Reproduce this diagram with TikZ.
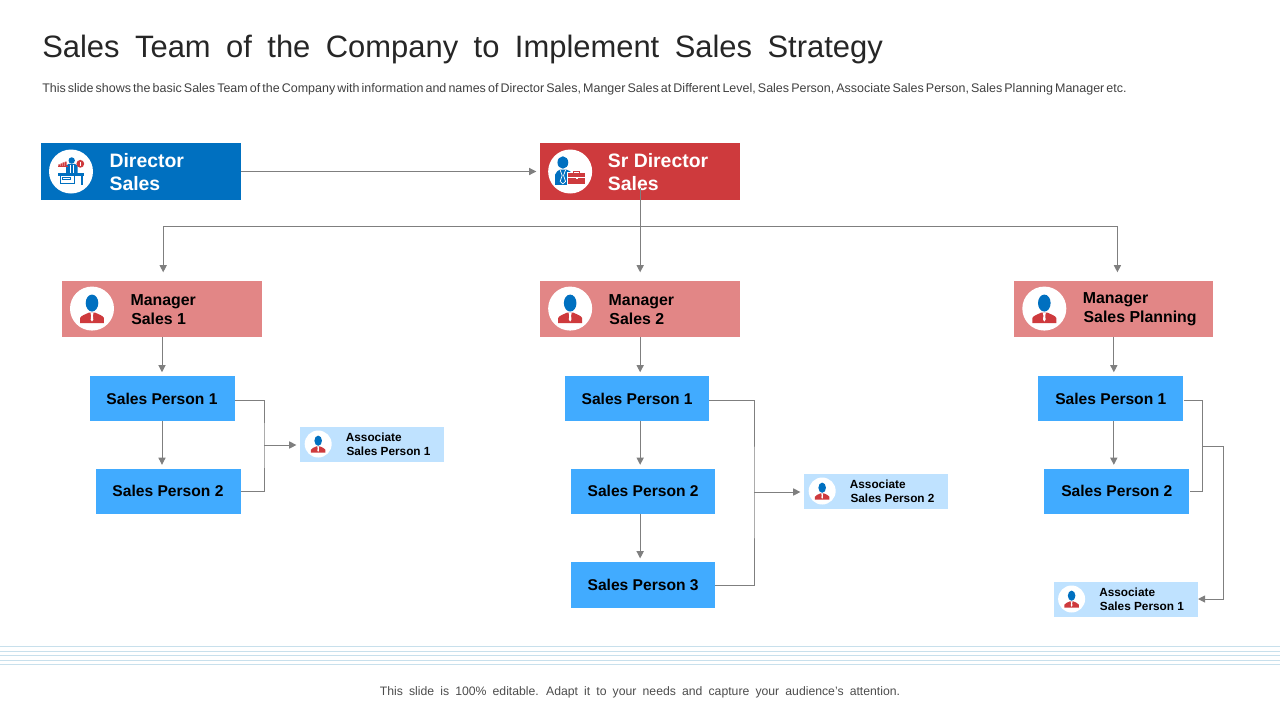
\documentclass[tikz,border=0pt]{standalone}
\usepackage{fontspec}
\setmainfont{Liberation Sans}
\usepackage{xcolor}
\usetikzlibrary{arrows.meta,positioning,calc}
\definecolor{dirblue}{HTML}{0070C0}
\definecolor{srred}{HTML}{CE3A3D}
\definecolor{mgrpink}{HTML}{E28686}
\definecolor{salesblue}{HTML}{41ABFF}
\definecolor{assocblue}{HTML}{BFE2FF}
\definecolor{linegray}{HTML}{7F7F7F}
\definecolor{ruleblue}{HTML}{C8E0EC}
\newcommand{\titlefnt}{\fontsize{22}{26}\selectfont\spaceskip=11pt\relax}
\newcommand{\subfnt}{\fontsize{8.88}{10}\selectfont\spaceskip=1.5pt\relax}
\newcommand{\footfnt}{\fontsize{8.7}{10}\selectfont\spaceskip=4.35pt\relax}
\tikzstyle{topbox}=[rectangle, fill=dirblue, minimum width=5cm, minimum height=1.425cm, inner sep=0pt]
\tikzstyle{mgrbox}=[rectangle, fill=mgrpink, minimum width=5cm, minimum height=1.4cm, inner sep=0pt]
\tikzstyle{salesbox}=[rectangle, fill=salesblue, minimum width=3.625cm, minimum height=1.125cm, inner sep=0pt,
  font=\bfseries\fontsize{11.1}{13.5}\selectfont]
\tikzstyle{assocbox}=[rectangle, fill=assocblue, minimum width=3.6cm, minimum height=0.875cm, inner sep=0pt]
\tikzstyle{iconbig}=[circle, fill=white, minimum size=1.1cm, inner sep=0pt]
\tikzstyle{iconsmall}=[circle, fill=white, minimum size=0.675cm, inner sep=0pt]
\tikzstyle{toptext}=[align=left, inner sep=0pt, text=white, yshift=-0.025cm, font=\bfseries\fontsize{13.8}{16.4}\selectfont]
\tikzstyle{mgrtext}=[align=left, inner sep=0pt, yshift=-0.015cm, font=\bfseries\fontsize{11.3}{13.5}\selectfont]
\tikzstyle{assoctext}=[align=left, inner sep=0pt, font=\bfseries\fontsize{8.4}{10}\selectfont]
\tikzstyle{conn}=[draw=linegray, line width=0.7pt]
\tikzstyle{arrow}=[conn, -{Triangle[length=0.18cm,width=0.18cm]}, shorten >=0.09cm]
\tikzstyle{iconpx}=[x=0.025cm, y=-0.025cm]
\tikzset{
  pics/manicon/.style={code={
    \fill[iconpx,dirblue] (0,-5.5) ellipse (6.3 and 8.5);
    \fill[iconpx,srred] (-12,14.5) -- (-12,9.5) .. controls (-11,7) and (-7,6) .. (-3,4) -- (3,4)
      .. controls (7,6) and (11,7) .. (12,9.5) -- (12,14.5) -- cycle;
    \fill[iconpx,white] (-1.6,4) -- (1.6,4) -- (0.9,7) -- (1.3,11) -- (0,13) -- (-1.3,11) -- (-0.9,7) -- cycle;
  }},
  pics/deskicon/.style={code={
    \fill[iconpx,dirblue] (0.7,-11) circle (3.2);
    \fill[iconpx,dirblue] (-5,1.7) -- (-5,-6) -- (-2,-7.7) -- (3.5,-7.7) -- (6.7,-6) -- (6.7,1.7) -- cycle;
    \draw[iconpx,white,line width=0.4pt] (-1,-7) -- (-1,1.7) (2.4,-7) -- (2.4,1.7);
    \fill[iconpx,dirblue] (-12.7,1.7) rectangle (13.3,4);
    \fill[iconpx,dirblue] (10,4) rectangle (12.3,13.3);
    \draw[iconpx,dirblue,line width=0.7pt] (-11,4) rectangle (3.3,12.3);
    \draw[iconpx,dirblue,line width=0.5pt] (-8.3,5.5) rectangle (-1,8);
    \fill[iconpx,srred] (-12.7,-7.2) rectangle (-11,-5.7) (-10.5,-8.2) rectangle (-8.8,-5.7)
      (-8.3,-9.2) rectangle (-6.6,-5.7) (-6.1,-10) rectangle (-4.4,-5.7);
    \fill[iconpx,srred] (-12.7,-5.7) rectangle (-3.3,-5);
    \fill[iconpx,srred] (9.3,-7.7) circle (3.9);
    \draw[iconpx,white,line width=0.6pt] (9.3,-10) -- (9.3,-5.4);
  }},
  pics/caseicon/.style={code={
    \fill[iconpx,dirblue] (-7.3,-9) ellipse (5.4 and 6.2);
    \fill[iconpx,dirblue] (-15,13.3) -- (-15,3) .. controls (-14,0) and (-12,-1) .. (-10,-2) -- (-4,-2)
      .. controls (-1,-1) and (1.5,0) .. (2,3) -- (2,13.3) -- cycle;
    \draw[iconpx,white,line width=0.5pt] (-10,-1.5) -- (-8,4) -- (-10,10) -- (-7.3,12.3) -- (-4.6,10) -- (-6.6,4) -- (-4.6,-1.5);
    \fill[iconpx,white] (-2.7,0.7) rectangle (16,13.3);
    \fill[iconpx,srred] (-1.7,1.7) rectangle (15,12.3);
    \draw[iconpx,srred,line width=0.7pt] (3.5,1.7) -- (3.5,-0.3) -- (9.8,-0.3) -- (9.8,1.7);
    \draw[iconpx,white,line width=0.5pt] (-1.7,6) -- (15,6);
    \fill[iconpx,white] (5.5,5) rectangle (7.8,7.5);
  }}
}

\begin{document}
\begin{tikzpicture}
\useasboundingbox (0,0) rectangle (32,-18);
\node (title) [anchor=west, inner sep=0pt, text=black!85, font=\titlefnt] at (1.05,-1.24)
  {Sales Team of the Company to Implement Sales Strategy};
\node (subtitle) [anchor=west, inner sep=0pt, text=black!75, font=\subfnt] at (1.05,-2.24)
  {This slide shows the basic Sales Team of the Company with information and names of Director Sales, Manger Sales at Different Level, Sales Person, Associate Sales Person, Sales Planning Manager etc.};
\node (footer) [inner sep=0pt, text=black!70, font=\footfnt] at (16,-17.3)
  {This slide is 100\% editable. Adapt it to your needs and capture your audience's attention.};
% rules above the footer
\foreach \ruley in {16.16,16.29,16.39,16.51,16.61}
  \draw[draw=ruleblue, line width=0.9pt] (0,-\ruley) -- (32,-\ruley);

% top row
\node (dir) [topbox] at (3.525,-4.2875) {};
\node (sr) [topbox, fill=srred, right=7.465cm of dir] {};
\node (dirico) [iconbig, right=0.2cm of dir.west] {};
\node (srico) [iconbig, right=0.2cm of sr.west] {};
\pic at (dirico) {deskicon};
\pic at (srico) {caseicon};
\node (dirtext) [toptext, right=0.4cm of dirico] {Director\\Sales};
\node (srtext) [toptext, right=0.38cm of srico] {Sr Director\\Sales};

% managers
\node (mgr1) [mgrbox, below=2cm of dir, xshift=0.525cm] {};
\node (mgr2) [mgrbox, right=6.94cm of mgr1] {};
\node (mgr3) [mgrbox, right=6.84cm of mgr2, minimum width=4.975cm] {};
\node (mgr1ico) [iconbig, right=0.2cm of mgr1.west] {};
\node (mgr2ico) [iconbig, right=0.2cm of mgr2.west] {};
\node (mgr3ico) [iconbig, right=0.2cm of mgr3.west] {};
\pic at (mgr1ico) {manicon};
\pic at (mgr2ico) {manicon};
\pic at (mgr3ico) {manicon};
\node (mgr1text) [mgrtext, right=0.4cm of mgr1ico] {Manager\\\hspace*{0.5pt}Sales 1};
\node (mgr2text) [mgrtext, right=0.4cm of mgr2ico] {Manager\\\hspace*{0.5pt}Sales 2};
\node (mgr3text) [mgrtext, right=0.4cm of mgr3ico] {Manager\\\hspace*{0.5pt}Sales Planning};

% sales persons
\node (sp11) [salesbox, below=0.975cm of mgr1] {Sales Person 1};
\node (sp12) [salesbox, below=1.175cm of sp11, xshift=0.15cm] {Sales Person 2};
\node (sp21) [salesbox, below=0.975cm of mgr2, xshift=-0.075cm, minimum width=3.6cm] {Sales Person 1};
\node (sp22) [salesbox, below=1.175cm of sp21, xshift=0.15cm, minimum width=3.6cm] {Sales Person 2};
\node (sp23) [salesbox, below=1.2cm of sp22, minimum width=3.6cm, minimum height=1.15cm] {Sales Person 3};
\node (sp31) [salesbox, below=0.975cm of mgr3, xshift=-0.075cm] {Sales Person 1};
\node (sp32) [salesbox, below=1.175cm of sp31, xshift=0.15cm] {Sales Person 2};

% junctions of the brackets
\coordinate (join1) at (6.6,-11.125);
\coordinate (join2) at (18.85,-12.3);
\coordinate (join3) at (30.05,-11.15);
\coordinate (turn3) at (30.575,-14.975);

% associates
\node (as1) [assocbox, right=0.9cm of join1, yshift=0.025cm] {};
\node (as2) [assocbox, right=1.25cm of join2, yshift=0.025cm] {};
\node (as3) [assocbox, left=0cm of turn3, xshift=-0.625cm] {};
\node (as1ico) [iconsmall, right=0.11cm of as1.west] {};
\node (as2ico) [iconsmall, right=0.11cm of as2.west] {};
\node (as3ico) [iconsmall, right=0.11cm of as3.west] {};
\pic[scale=0.6] at (as1ico) {manicon};
\pic[scale=0.6] at (as2ico) {manicon};
\pic[scale=0.6] at (as3ico) {manicon};
\node (as1text) [assoctext, right=0.34cm of as1ico] {Associate\\\hspace*{0.5pt}Sales Person 1};
\node (as2text) [assoctext, right=0.34cm of as2ico] {Associate\\\hspace*{0.5pt}Sales Person 2};
\node (as3text) [assoctext, right=0.34cm of as3ico] {Associate\\\hspace*{0.5pt}Sales Person 1};

% connectors
\coordinate (srstem) at ($(sr.south)+(0,0.3)$);
\coordinate (bus) at ($(sr.south)+(0,-0.65)$);
\coordinate (bus1) at ($(mgr1.north)+(0.03,0)$);
\coordinate (bus3) at ($(mgr3.north)+(0.09,0)$);
\draw[arrow] (dir.east) -- (sr.west);
\draw[arrow, shorten >=0.2cm] (srstem) -- (mgr2.north);
\draw[conn] (bus1 |- bus) -- (bus3 |- bus);
\draw[arrow, shorten >=0.2cm] (bus1 |- bus) -- (bus1);
\draw[arrow, shorten >=0.2cm] (bus3 |- bus) -- (bus3);
\draw[arrow] (mgr1.south) -- (mgr1.south |- sp11.north);
\draw[arrow] (mgr2.south) -- (mgr2.south |- sp21.north);
\draw[arrow] (mgr3.south) -- (mgr3.south |- sp31.north);
\draw[arrow] (mgr1.south |- sp11.south) -- (mgr1.south |- sp12.north);
\draw[arrow] (mgr2.south |- sp21.south) -- (mgr2.south |- sp22.north);
\draw[arrow] (mgr2.south |- sp22.south) -- (mgr2.south |- sp23.north);
\draw[arrow] (mgr3.south |- sp31.south) -- (mgr3.south |- sp32.north);
\draw[conn] ([yshift=-0.04cm]sp11.east) -| (join1) |- (sp12.east);
\draw[arrow] (join1) -- (join1 -| as1.west);
\draw[conn] ([yshift=-0.04cm]sp21.east) -| (join2) |- (sp23.east);
\draw[arrow] (join2) -- (join2 -| as2.west);
\draw[conn] ([yshift=-0.04cm]sp31.east) -| (join3) |- (sp32.east);
\draw[arrow, shorten >=0pt] (join3) -| (turn3) -- (as3.east);
\end{tikzpicture}
\end{document}
